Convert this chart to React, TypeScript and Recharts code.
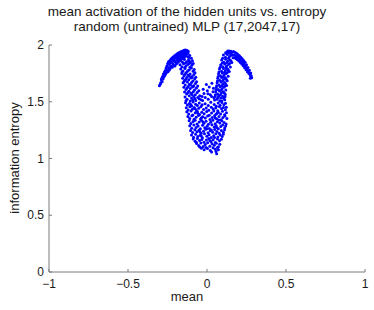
import { ScatterChart, Scatter, XAxis, YAxis } from 'recharts'

// hidden unit points, [mean, entropy]
const leftTip: number[][] = [
  [-0.301, 1.642], [-0.296, 1.655], [-0.293, 1.668], [-0.289, 1.694], [-0.286, 1.707], [-0.284, 1.676],
  [-0.281, 1.722], [-0.278, 1.701], [-0.276, 1.744], [-0.273, 1.718], [-0.27, 1.745],
  [-0.269, 1.762], [-0.267, 1.731], [-0.264, 1.776], [-0.262, 1.745], [-0.259, 1.798],
  [-0.256, 1.758], [-0.254, 1.815], [-0.251, 1.782], [-0.249, 1.836], [-0.247, 1.764],
  [-0.244, 1.852], [-0.242, 1.801], [-0.24, 1.778], [-0.238, 1.829], [-0.236, 1.861],
  [-0.233, 1.792], [-0.231, 1.845], [-0.229, 1.874], [-0.227, 1.812], [-0.225, 1.858],
  [-0.222, 1.886], [-0.22, 1.803], [-0.218, 1.838], [-0.216, 1.871], [-0.214, 1.895],
  [-0.211, 1.822], [-0.209, 1.859], [-0.207, 1.902], [-0.205, 1.88], [-0.203, 1.815],
  [-0.2, 1.848], [-0.198, 1.911], [-0.196, 1.889], [-0.194, 1.832], [-0.192, 1.866],
  [-0.19, 1.921], [-0.188, 1.899], [-0.186, 1.845], [-0.184, 1.878], [-0.182, 1.929],
  [-0.18, 1.908], [-0.178, 1.856], [-0.176, 1.887], [-0.174, 1.935], [-0.172, 1.916],
  [-0.17, 1.868], [-0.168, 1.898], [-0.166, 1.941], [-0.164, 1.924], [-0.162, 1.877],
  [-0.16, 1.906], [-0.158, 1.946], [-0.156, 1.93], [-0.154, 1.889], [-0.152, 1.916],
  [-0.15, 1.95], [-0.148, 1.935], [-0.146, 1.898], [-0.144, 1.953], [-0.142, 1.922],
  [-0.14, 1.942], [-0.138, 1.955], [-0.136, 1.908], [-0.134, 1.948], [-0.132, 1.93],
  [-0.13, 1.953], [-0.127, 1.94], [-0.124, 1.949], [-0.121, 1.926], [-0.118, 1.942],
]

const leftDrop: number[][] = [
  [-0.157, 1.912], [-0.144, 1.889], [-0.131, 1.917], [-0.122, 1.896], [-0.109, 1.908], [-0.099, 1.884], [-0.162, 1.881], [-0.138, 1.903], [-0.115, 1.889],
  [-0.168, 1.862], [-0.155, 1.847], [-0.143, 1.872], [-0.129, 1.852], [-0.117, 1.868], [-0.104, 1.843], [-0.092, 1.861], [-0.136, 1.841], [-0.161, 1.876], [-0.111, 1.857],
  [-0.171, 1.826], [-0.159, 1.808], [-0.148, 1.834], [-0.133, 1.815], [-0.121, 1.829], [-0.108, 1.803], [-0.096, 1.821], [-0.087, 1.836], [-0.141, 1.801], [-0.114, 1.838],
  [-0.166, 1.788], [-0.152, 1.771], [-0.139, 1.793], [-0.126, 1.764], [-0.112, 1.782], [-0.099, 1.797], [-0.088, 1.768], [-0.081, 1.785], [-0.158, 1.762], [-0.119, 1.775],
  [-0.159, 1.748], [-0.146, 1.727], [-0.134, 1.754], [-0.121, 1.735], [-0.107, 1.745], [-0.094, 1.722], [-0.083, 1.741], [-0.076, 1.756], [-0.141, 1.741], [-0.112, 1.725],
  [-0.154, 1.706], [-0.142, 1.688], [-0.128, 1.714], [-0.116, 1.693], [-0.103, 1.709], [-0.089, 1.682], [-0.078, 1.701], [-0.071, 1.716], [-0.135, 1.697], [-0.095, 1.713],
  [-0.151, 1.667], [-0.138, 1.648], [-0.124, 1.673], [-0.111, 1.655], [-0.098, 1.669], [-0.085, 1.642], [-0.073, 1.661], [-0.066, 1.676], [-0.145, 1.679], [-0.104, 1.647],
  [-0.146, 1.628], [-0.133, 1.609], [-0.119, 1.634], [-0.106, 1.616], [-0.092, 1.631], [-0.079, 1.604], [-0.067, 1.622], [-0.059, 1.638], [-0.126, 1.621], [-0.085, 1.637],
  [-0.142, 1.587], [-0.129, 1.568], [-0.114, 1.593], [-0.101, 1.574], [-0.087, 1.589], [-0.074, 1.562], [-0.062, 1.581], [-0.052, 1.596], [-0.121, 1.581], [-0.095, 1.563],
  [-0.139, 1.542], [-0.126, 1.521], [-0.112, 1.553], [-0.098, 1.532], [-0.084, 1.547], [-0.071, 1.511], [-0.058, 1.538], [-0.046, 1.552], [-0.038, 1.518],
  [-0.133, 1.508], [-0.106, 1.506], [-0.077, 1.529], [-0.091, 1.516], [-0.049, 1.527],
]

const centerGap: number[][] = [
  [-0.028, 1.512], [-0.011, 1.538], [0.008, 1.521], [0.029, 1.547], [-0.019, 1.573], [0.002, 1.596],
  [0.021, 1.561], [0.038, 1.588], [-0.031, 1.546], [0.014, 1.629], [0.041, 1.618], [-0.004, 1.652],
  [0.031, 1.662], [-0.024, 1.61], [0.044, 1.536], [0.006, 1.571],
]

const coreBlob: number[][] = [
  [-0.136, 1.492], [-0.124, 1.471], [-0.111, 1.485], [-0.097, 1.463], [-0.088, 1.497], [-0.072, 1.478], [-0.061, 1.466], [-0.049, 1.489], [-0.031, 1.473], [-0.012, 1.482],
  [0.008, 1.468], [0.024, 1.495], [0.046, 1.476], [0.059, 1.461], [0.071, 1.488], [0.083, 1.469], [0.094, 1.494], [0.107, 1.474], [0.117, 1.486], [-0.103, 1.476],
  [-0.131, 1.448], [-0.119, 1.427], [-0.108, 1.456], [-0.093, 1.433], [-0.081, 1.449], [-0.066, 1.424], [-0.052, 1.442], [-0.038, 1.458], [-0.022, 1.431], [-0.005, 1.446], [0.011, 1.425],
  [0.027, 1.452], [0.039, 1.436], [0.055, 1.444], [0.068, 1.421], [0.079, 1.457], [0.092, 1.438], [0.104, 1.449], [0.116, 1.429], [0.122, 1.451], [-0.075, 1.438],
  [-0.128, 1.412], [-0.116, 1.391], [-0.101, 1.418], [-0.089, 1.384], [-0.074, 1.403], [-0.062, 1.416], [-0.047, 1.388], [-0.033, 1.407], [-0.018, 1.395], [-0.002, 1.414], [0.014, 1.382],
  [0.029, 1.401], [0.043, 1.419], [0.057, 1.389], [0.071, 1.408], [0.086, 1.393], [0.098, 1.416], [0.111, 1.386], [0.123, 1.404], [-0.058, 1.398], [0.064, 1.398],
  [-0.121, 1.371], [-0.109, 1.352], [-0.096, 1.377], [-0.082, 1.346], [-0.069, 1.364], [-0.054, 1.379], [-0.041, 1.349], [-0.027, 1.368], [-0.011, 1.357], [0.004, 1.374], [0.019, 1.343],
  [0.033, 1.362], [0.048, 1.376], [0.061, 1.351], [0.076, 1.369], [0.089, 1.341], [0.101, 1.361], [0.114, 1.374], [0.126, 1.352], [-0.035, 1.358], [0.052, 1.356],
  [-0.113, 1.332], [-0.102, 1.309], [-0.088, 1.326], [-0.075, 1.338], [-0.063, 1.304], [-0.049, 1.321], [-0.034, 1.335], [-0.019, 1.311], [-0.006, 1.328], [0.009, 1.302],
  [0.023, 1.319], [0.037, 1.337], [0.052, 1.307], [0.066, 1.324], [0.081, 1.312], [0.094, 1.333], [0.108, 1.318], [0.121, 1.305], [-0.025, 1.322], [0.074, 1.339],
  [-0.109, 1.288], [-0.097, 1.267], [-0.083, 1.295], [-0.069, 1.274], [-0.056, 1.286], [-0.042, 1.262], [-0.028, 1.292], [-0.014, 1.271], [0.001, 1.284], [0.015, 1.265],
  [0.031, 1.297], [0.045, 1.277], [0.058, 1.289], [0.072, 1.262], [0.087, 1.281], [0.099, 1.296], [0.112, 1.269], [0.118, 1.287], [-0.002, 1.263], [0.061, 1.274],
  [-0.104, 1.247], [-0.091, 1.228], [-0.077, 1.254], [-0.064, 1.235], [-0.051, 1.249], [-0.037, 1.223], [-0.022, 1.241], [-0.008, 1.257], [0.007, 1.226], [0.021, 1.244],
  [0.036, 1.231], [0.049, 1.255], [0.063, 1.238], [0.077, 1.222], [0.091, 1.246], [0.104, 1.232], [0.111, 1.253], [-0.045, 1.236], [0.028, 1.252],
  [-0.098, 1.208], [-0.085, 1.187], [-0.072, 1.214], [-0.058, 1.193], [-0.043, 1.205], [-0.029, 1.182], [-0.016, 1.217], [-0.001, 1.196], [0.013, 1.209],
  [0.027, 1.184], [0.042, 1.201], [0.056, 1.218], [0.069, 1.189], [0.083, 1.206], [0.096, 1.194], [0.103, 1.213], [-0.036, 1.199], [0.048, 1.186],
  [-0.087, 1.171], [-0.075, 1.152], [-0.061, 1.176], [-0.047, 1.158], [-0.033, 1.168], [-0.019, 1.143], [-0.004, 1.163], [0.011, 1.177],
  [0.025, 1.149], [0.039, 1.166], [0.053, 1.142], [0.066, 1.172], [0.079, 1.156], [0.091, 1.169], [-0.068, 1.144], [0.018, 1.158],
  [-0.066, 1.132], [-0.053, 1.114], [-0.039, 1.136], [-0.024, 1.105], [-0.011, 1.124], [0.004, 1.138], [0.018, 1.109], [0.032, 1.129],
  [0.046, 1.117], [0.059, 1.134], [0.072, 1.103], [0.081, 1.125], [-0.046, 1.102],
  [-0.035, 1.091], [-0.018, 1.076], [0.003, 1.088], [0.021, 1.071], [0.038, 1.094], [0.052, 1.082], [0.066, 1.096],
  [0.029, 1.058], [0.057, 1.062], [0.061, 1.041], [0.072, 1.078], [-0.006, 1.098],
]

const rightDrop: number[][] = [
  [0.104, 1.912], [0.117, 1.893], [0.129, 1.916], [0.142, 1.898], [0.155, 1.909], [0.165, 1.887], [0.099, 1.884], [0.136, 1.884],
  [0.093, 1.868], [0.106, 1.849], [0.118, 1.874], [0.131, 1.856], [0.144, 1.871], [0.157, 1.846], [0.097, 1.842], [0.124, 1.843], [0.151, 1.862],
  [0.087, 1.826], [0.099, 1.809], [0.112, 1.833], [0.124, 1.816], [0.137, 1.829], [0.148, 1.806], [0.083, 1.803], [0.119, 1.802], [0.143, 1.837],
  [0.079, 1.788], [0.092, 1.769], [0.104, 1.794], [0.116, 1.776], [0.129, 1.791], [0.141, 1.766], [0.076, 1.762], [0.111, 1.761], [0.135, 1.779],
  [0.073, 1.747], [0.085, 1.728], [0.097, 1.754], [0.109, 1.737], [0.122, 1.749], [0.134, 1.724], [0.071, 1.722], [0.103, 1.722], [0.128, 1.758],
  [0.068, 1.708], [0.08, 1.689], [0.092, 1.714], [0.104, 1.697], [0.116, 1.711], [0.128, 1.686], [0.066, 1.683], [0.098, 1.682], [0.122, 1.698],
  [0.064, 1.667], [0.076, 1.648], [0.088, 1.673], [0.1, 1.656], [0.112, 1.669], [0.124, 1.644], [0.061, 1.642], [0.094, 1.641], [0.118, 1.657],
  [0.059, 1.626], [0.071, 1.608], [0.083, 1.633], [0.095, 1.615], [0.107, 1.628], [0.119, 1.603], [0.057, 1.603], [0.089, 1.602], [0.113, 1.638],
  [0.055, 1.588], [0.067, 1.569], [0.079, 1.594], [0.091, 1.576], [0.103, 1.589], [0.116, 1.563], [0.053, 1.562], [0.085, 1.561], [0.109, 1.577],
  [0.051, 1.546], [0.063, 1.522], [0.075, 1.553], [0.087, 1.534], [0.099, 1.548], [0.112, 1.518], [0.048, 1.515], [0.081, 1.508],
  [0.105, 1.531], [0.069, 1.537], [0.093, 1.507], [0.114, 1.543],
]

const rightTip: number[][] = [
  [0.118, 1.932], [0.123, 1.925], [0.128, 1.94], [0.132, 1.947], [0.135, 1.935], [0.14, 1.947], [0.146, 1.932],
  [0.149, 1.924], [0.152, 1.944], [0.158, 1.915], [0.16, 1.936],
  [0.168, 1.942], [0.172, 1.912], [0.175, 1.888], [0.178, 1.934], [0.181, 1.905],
  [0.184, 1.878], [0.187, 1.927], [0.19, 1.897], [0.193, 1.869], [0.196, 1.917],
  [0.199, 1.888], [0.202, 1.858], [0.205, 1.906], [0.208, 1.876], [0.211, 1.845],
  [0.214, 1.893], [0.217, 1.862], [0.22, 1.832], [0.223, 1.879], [0.226, 1.848],
  [0.229, 1.817], [0.232, 1.864], [0.235, 1.832], [0.238, 1.8], [0.241, 1.847],
  [0.244, 1.814], [0.247, 1.783], [0.25, 1.825], [0.253, 1.794], [0.256, 1.765],
  [0.259, 1.801], [0.262, 1.772], [0.265, 1.748], [0.268, 1.778], [0.271, 1.752],
  [0.274, 1.731], [0.277, 1.754], [0.28, 1.728], [0.283, 1.712], [0.274, 1.708],
]

const xTicks = [-1, -0.5, 0, 0.5, 1]
const yTicks = [0, 0.5, 1, 1.5, 2]

const points = [...leftTip, ...leftDrop, ...centerGap, ...coreBlob, ...rightDrop, ...rightTip].map(
  ([x, y]) => ({ x, y })
)

const FONT = '"Liberation Sans", Arial, Helvetica, sans-serif'
const AXIS = '#7a7a7a'
const TEXT = '#1a1a1a'

const fmt = (v: number) => String(v).replace('-', '\u2212')

function XTick({ x, y, payload }: any) {
  return (
    <g>
      <line x1={x} x2={x} y1={y} y2={y - 3} stroke={AXIS} />
      <text x={x} y={y + 16} textAnchor="middle" fontSize={12} fontFamily={FONT} fill={TEXT}>
        {fmt(payload.value)}
      </text>
    </g>
  )
}

function YTick({ x, y, payload }: any) {
  return (
    <g>
      <line x1={x} x2={x + 3} y1={y} y2={y} stroke={AXIS} />
      <text x={x - 5} y={y + 4} textAnchor="end" fontSize={12} fontFamily={FONT} fill={TEXT}>
        {fmt(payload.value)}
      </text>
    </g>
  )
}

const Dot = (props: any) => <circle cx={props.cx} cy={props.cy} r={1.5} fill="#0000ff" />

export default function App() {
  return (
    <div style={{ position: 'absolute', left: 0, top: 0, width: 374, height: 310, background: '#fff', fontFamily: FONT, color: TEXT }}>
      <div style={{ position: 'absolute', left: 0, width: 374, top: 4, textAlign: 'center', fontSize: 13.5, lineHeight: '15px' }}>
        mean activation of the hidden units vs. entropy
        <br />
        random (untrained) MLP (17,2047,17)
      </div>
      <ScatterChart width={374} height={310} margin={{ top: 45, right: 9, bottom: 0, left: 9 }}>
        <XAxis
          type="number"
          dataKey="x"
          domain={[-1, 1]}
          ticks={xTicks}
          height={38}
          stroke={AXIS}
          tickLine={false}
          tickSize={0}
          tickMargin={0}
          tick={<XTick />}
          interval={0}
        />
        <YAxis
          type="number"
          dataKey="y"
          domain={[0, 2]}
          ticks={yTicks}
          width={40}
          stroke={AXIS}
          tickLine={false}
          tickSize={0}
          tickMargin={0}
          tick={<YTick />}
          interval={0}
        />
        <Scatter data={points} shape={<Dot />} isAnimationActive={false} />
      </ScatterChart>
      <div style={{ position: 'absolute', left: 0, width: 374, top: 289, textAlign: 'center', fontSize: 13 }}>mean</div>
      <div
        style={{
          position: 'absolute',
          left: 14,
          top: 158,
          fontSize: 13,
          whiteSpace: 'nowrap',
          transform: 'translate(-50%, -50%) rotate(-90deg)',
        }}
      >
        information entropy
      </div>
    </div>
  )
}
